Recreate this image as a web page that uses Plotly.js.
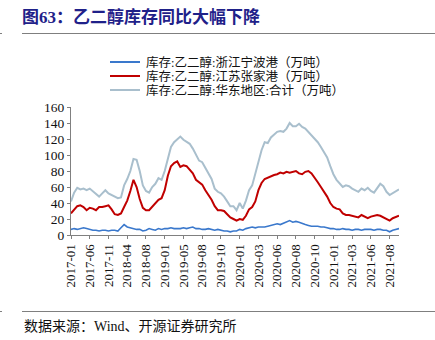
<!DOCTYPE html>
<html><head><meta charset="utf-8">
<script src="https://cdn.plot.ly/plotly-3.0.1.min.js"></script>
<style>html,body{margin:0;padding:0;background:#fff;}#chart{width:435px;height:340px;}</style>
</head><body><div id="chart"></div>
<script>
// ---- data ----
const seriesNames = [
  "库存:乙二醇:浙江宁波港（万吨）",
  "库存:乙二醇:江苏张家港（万吨）",
  "库存:乙二醇:华东地区:合计（万吨）"
];
const tickLabels = ["2017-01","2017-06","2017-11","2018-04","2018-08","2019-01","2019-05","2019-08","2019-10",
  "2020-01","2020-03","2020-06","2020-08","2020-10","2021-01","2021-03","2021-06","2021-08"];
const ningbo = [7,8,7,8,9,8,7,6,6,5,6,6,5,6,6,5,9,13,10,9,8,7,7,5,6,8,7,6,8,7,8,8,9,8,8,8,9,8,9,10,
  8,8,7,7,8,7,6,7,6,5,5,4,5,5,7,6,8,9,10,9,10,10,10,11,12,13,14,13,15,17,18,16,17,16,14,13,12,11,11,11,
  10,10,9,8,8,7,7,8,7,7,6,7,7,6,7,7,7,6,7,7,6,6,4,6,7,8];
const zhangjiagang = [27,32,36,37,35,31,34,33,31,35,35,36,37,32,26,25,27,35,43,55,69,60,45,34,31,31,35,39,44,46,
  56,74,86,90,92,85,87,86,82,77,69,66,63,56,50,44,36,31,31,30,26,22,20,18,20,19,24,32,35,42,
  56,65,70,72,74,75,76,78,77,79,78,79,80,77,76,79,80,77,72,66,60,54,48,40,35,33,32,27,25,25,
  24,23,22,25,23,21,23,24,25,24,22,20,18,21,23,24];
const eastChina = [42,53,59,57,58,56,58,55,51,48,52,56,52,50,48,46,47,62,70,80,95,94,80,62,55,53,60,64,71,69,
  80,96,110,116,119,123,119,116,114,108,100,93,91,84,76,70,58,54,52,48,42,36,36,31,40,33,43,56,62,77,
  92,106,116,115,122,126,129,130,129,133,140,136,136,139,135,133,129,125,121,116,110,104,97,86,76,69,64,60,62,61,
  58,56,54,58,56,59,55,53,58,64,61,54,50,52,55,57];
const pointsPerTick = 6;

// ---- layout helpers ----
const W = 435, H = 340, ML = 71, MR = 36, MT = 107, MB = 105;
const PW = W - ML - MR, PH = H - MT - MB;
const px = x => (x - ML) / PW;
const py = y => (H - MB - y) / PH;

const colors = ["#3a78cc", "#c00000", "#a9bfcd"];
const widths = [1.6, 2, 2];
const idx = ningbo.map((_, i) => i);
const allSeries = [ningbo, zhangjiagang, eastChina];

const traces = allSeries.map((vals, k) => ({
  x: idx, y: vals, type: "scatter", mode: "lines", name: seriesNames[k],
  line: {color: colors[k], width: widths[k]}, showlegend: false, hoverinfo: "skip"
}));
const ordered = [traces[2], traces[1], traces[0]];

const shapes = [
  {type: "line", xref: "paper", yref: "paper", x0: px(22), x1: px(435), y0: py(33.5), y1: py(33.5), line: {color: "#7f7f7f", width: 1}},
  {type: "line", xref: "paper", yref: "paper", x0: px(22), x1: px(435), y0: py(311.5), y1: py(311.5), line: {color: "#7f7f7f", width: 1}},
  {type: "line", xref: "paper", yref: "paper", x0: px(0), x1: px(2), y0: py(33.5), y1: py(33.5), line: {color: "#7f7f7f", width: 1}},
  {type: "line", xref: "paper", yref: "paper", x0: px(0), x1: px(2), y0: py(311.5), y1: py(311.5), line: {color: "#7f7f7f", width: 1}}
];
const annotations = [];
const legendY = [62, 76, 90];
seriesNames.forEach((n, k) => {
  shapes.push({type: "line", xref: "paper", yref: "paper", x0: px(110), x1: px(140), y0: py(legendY[k]), y1: py(legendY[k]),
    line: {color: colors[k], width: 2}});
  annotations.push({xref: "paper", yref: "paper", x: px(144), y: py(legendY[k]), xanchor: "left", yanchor: "middle",
    text: n, showarrow: false, font: {family: "Liberation Serif, Noto Sans CJK SC", size: 12.5, color: "#111"}});
});
annotations.push({xref: "paper", yref: "paper", x: px(22), y: py(326.5), xanchor: "left", yanchor: "middle",
  text: "数据来源：Wind、开源证券研究所", showarrow: false,
  font: {family: "Liberation Serif, Noto Sans CJK SC", size: 14, color: "#111"}});

const tickvals = tickLabels.map((_, i) => i * pointsPerTick);

const layout = {
  width: W, height: H,
  margin: {l: ML, r: MR, t: MT, b: MB, pad: 0},
  paper_bgcolor: "#fff", plot_bgcolor: "#fff",
  title: {text: "<b>图63：乙二醇库存同比大幅下降</b>", x: 22 / W, xanchor: "left", xref: "container",
    y: 1 - 17 / H, yanchor: "middle", yref: "container",
    font: {family: "Liberation Serif, Noto Sans CJK SC", size: 17, color: "#1f2189"}},
  xaxis: {range: [0, ningbo.length - 1], tickvals: tickvals, ticktext: tickLabels, tickangle: -90,
    showline: true, linecolor: "#808080", linewidth: 1, ticks: "outside", ticklen: 3, tickcolor: "#808080",
    showgrid: false, zeroline: false, tickfont: {family: "Liberation Serif", size: 13, color: "#111"}},
  yaxis: {range: [0, 160], dtick: 20, tick0: 0, showline: true, linecolor: "#808080", linewidth: 1,
    ticks: "outside", ticklen: 3, tickcolor: "#808080", showgrid: false, zeroline: false,
    tickfont: {family: "Liberation Serif", size: 13.5, color: "#111"}},
  shapes: shapes, annotations: annotations, showlegend: false
};
Plotly.newPlot("chart", ordered, layout, {displayModeBar: false, staticPlot: true});
</script></body></html>
